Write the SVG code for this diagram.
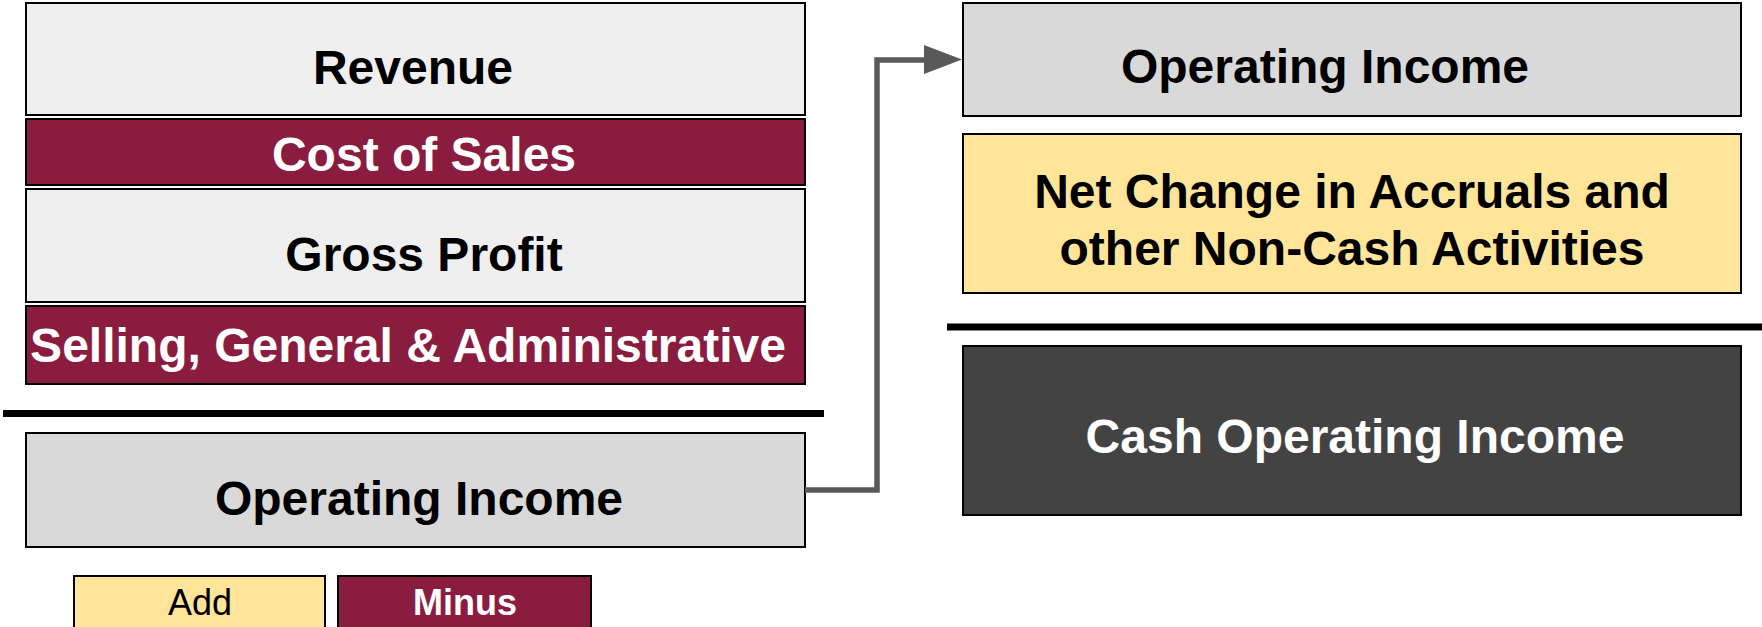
<svg xmlns="http://www.w3.org/2000/svg" width="1762" height="627" viewBox="0 0 1762 627">
<defs>
<style>
.box{stroke:#000;stroke-width:2}
.light{fill:#efefef}
.gray{fill:#d9d9d9}
.maroon{fill:#8a1c40}
.yellow{fill:#ffe599}
.dark{fill:#434343}
.t{font-family:"Liberation Sans",Arial,sans-serif;font-weight:bold;font-size:48px;text-anchor:middle;fill:#000}
.w{fill:#fff}
.sep{stroke:#000;stroke-width:7}
.conn{fill:none;stroke:#595959;stroke-width:5.5}
</style>
</defs>
<rect width="1762" height="627" fill="#fff"/>
<g id="revenue"><rect class="box light" x="26" y="3" width="779" height="112"/><text class="t" x="413" y="84">Revenue</text></g>
<g id="cost-of-sales"><rect class="box maroon" x="26" y="119" width="779" height="66"/><text class="t w" x="424" y="171">Cost of Sales</text></g>
<g id="gross-profit"><rect class="box light" x="26" y="189" width="779" height="113"/><text class="t" x="424" y="271">Gross Profit</text></g>
<g id="sga"><rect class="box maroon" x="26" y="306" width="779" height="78"/><text class="t w" x="408" y="362">Selling, General &amp; Administrative</text></g>
<g id="sep-left"><line class="sep" x1="3" y1="413.5" x2="824" y2="413.5"/></g>
<g id="op-income-left"><rect class="box gray" x="26" y="433" width="779" height="114"/><text class="t" x="419" y="515">Operating Income</text></g>
<g id="add"><rect class="box yellow" x="74" y="576" width="251" height="60"/><text class="t" style="font-weight:normal;font-size:36px" x="200" y="615">Add</text></g>
<g id="minus"><rect class="box maroon" x="338" y="576" width="253" height="60"/><text class="t w" style="font-size:36px" x="465" y="615">Minus</text></g>
<g id="op-income-right"><rect class="box gray" x="963" y="3" width="778" height="113"/><text class="t" x="1325" y="83">Operating Income</text></g>
<g id="net-change"><rect class="box yellow" x="963" y="134" width="778" height="159"/><text class="t" x="1352" y="208">Net Change in Accruals and</text><text class="t" x="1352" y="265">other Non-Cash Activities</text></g>
<g id="sep-right"><line class="sep" x1="947" y1="327" x2="1762" y2="327"/></g>
<g id="cash-op-income"><rect class="box dark" x="963" y="346" width="778" height="169"/><text class="t w" x="1355" y="453">Cash Operating Income</text></g>
<g id="connectors">
<polyline class="conn" points="805,490 877,490 877,60 926,60"/>
<path d="M924,45 L962,59.5 L924,74 Z" fill="#595959"/>
</g>
</svg>
